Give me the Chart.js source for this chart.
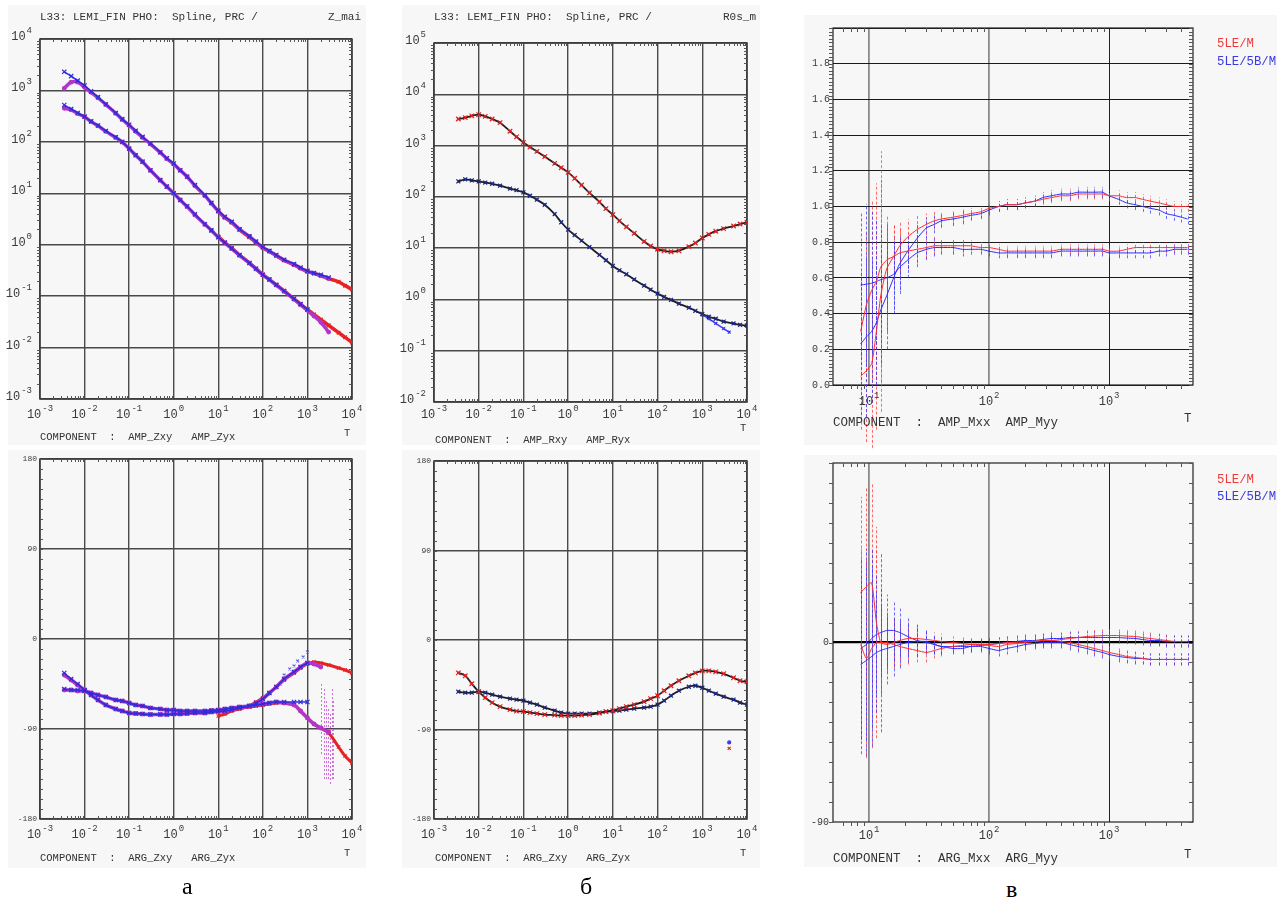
<!DOCTYPE html>
<html>
<head>
<meta charset="utf-8">
<script src="https://cdn.jsdelivr.net/npm/chart.js@4.4.1/dist/chart.umd.min.js"></script>
<style>
  body { margin:0; width:1277px; height:899px; background:#fff; position:relative; overflow:hidden; }
  .bg { position:absolute; background:#f7f7f7; }
  canvas { position:absolute; }
  .t { position:absolute; white-space:pre; color:#333; font-family:"Liberation Mono", monospace; font-size:10.5px; line-height:12px; }
  .ttl { font-size:11px; }
  .lg { position:absolute; white-space:pre; font-family:"Liberation Mono", monospace; font-size:12.3px; line-height:14px; }
  .letter { position:absolute; font-family:"Liberation Serif", serif; font-size:24px; line-height:24px; color:#000; }
</style>
</head>
<body>
<div class="bg" style="left:8px;top:5px;width:358px;height:440px"></div>
<div class="bg" style="left:8px;top:450px;width:358px;height:418px"></div>
<div class="bg" style="left:402px;top:5px;width:358px;height:440px"></div>
<div class="bg" style="left:402px;top:450px;width:358px;height:418px"></div>
<div class="bg" style="left:804px;top:15px;width:473px;height:430px"></div>
<div class="bg" style="left:804px;top:455px;width:473px;height:412px"></div>

<canvas id="aAmp" width="370" height="450" style="left:0;top:0"></canvas>
<canvas id="aArg" width="370" height="420" style="left:0;top:450px"></canvas>
<canvas id="bAmp" width="370" height="450" style="left:400px;top:0"></canvas>
<canvas id="bArg" width="370" height="420" style="left:400px;top:450px"></canvas>
<canvas id="cAmp" width="477" height="450" style="left:800px;top:0"></canvas>
<canvas id="cArg" width="477" height="420" style="left:800px;top:450px"></canvas>

<div class="t ttl" style="left:40px;top:11px">L33: LEMI_FIN PHO:  Spline, PRC /</div>
<div class="t ttl" style="left:328px;top:11px">Z_mai</div>
<div class="t" style="left:40px;top:431px">COMPONENT  :  AMP_Zxy   AMP_Zyx</div>
<div class="t" style="left:344px;top:427px">T</div>
<div class="t" style="left:40px;top:852px">COMPONENT  :  ARG_Zxy   ARG_Zyx</div>
<div class="t" style="left:344px;top:847px">T</div>
<div class="letter" style="left:182px;top:874px">а</div>

<div class="t ttl" style="left:434px;top:11px">L33: LEMI_FIN PHO:  Spline, PRC /</div>
<div class="t ttl" style="left:723px;top:11px">R0s_m</div>
<div class="t" style="left:435px;top:434px">COMPONENT  :  AMP_Rxy   AMP_Ryx</div>
<div class="t" style="left:740px;top:422px">T</div>
<div class="t" style="left:435px;top:852px">COMPONENT  :  ARG_Zxy   ARG_Zyx</div>
<div class="t" style="left:740px;top:847px">T</div>
<div class="letter" style="left:580px;top:874px">б</div>

<div class="t" style="left:833px;top:417px;font-size:12.5px">COMPONENT  :  AMP_Mxx  AMP_Myy</div>
<div class="t" style="left:1184px;top:413px;font-size:12.5px">T</div>
<div class="t" style="left:833px;top:853px;font-size:12.5px">COMPONENT  :  ARG_Mxx  ARG_Myy</div>
<div class="t" style="left:1184px;top:849px;font-size:12.5px">T</div>
<div class="lg" style="left:1217px;top:37px;color:#f03a3a">5LE/M</div>
<div class="lg" style="left:1217px;top:55px;color:#3a3ae0">5LE/5B/M</div>
<div class="lg" style="left:1217px;top:473px;color:#f03a3a">5LE/M</div>
<div class="lg" style="left:1217px;top:490px;color:#3a3ae0">5LE/5B/M</div>
<div class="letter" style="left:1006px;top:877px">в</div>

<script>
// ---------- periods (s) for the impedance panels ----------
const _ = null;
const PERIODS = [0.0035,0.005,0.007,0.01,0.014,0.02,0.03,0.05,0.07,0.1,0.14,0.2,0.3,0.5,0.7,1,1.4,2,3,5,7,10,14,20,30,50,70,100,140,200,300,500,700,1000,1400,2000,3000,5000,7000,10000];

// panel a, amplitude |Z|
const ampZyxBlue = [2300,1900,1550,1250,960,740,540,365,277,215,165,125,93,63,48,38,28,21,14.5,9.2,6.5,4.6,3.5,2.8,2.0,1.45,1.15,0.9,0.76,0.63,0.51,0.42,0.36,0.31,0.28,0.26,0.23,_,_,_];
const ampZyxMag  = [1100,1450,1450,1150,920,720,530,360,272,210,160,122,91,62,47,37,28,21,14,9,6.4,4.5,3.4,2.75,2.0,1.45,1.13,0.88,0.75,0.62,0.5,0.41,0.35,0.3,0.28,0.25,0.22,_,_,_];
const ampZyxRed  = [_,_,_,_,_,_,_,_,_,_,_,_,_,_,_,_,_,_,_,_,_,4.4,3.4,2.7,1.95,1.4,1.1,0.87,0.74,0.61,0.5,0.41,0.35,0.3,0.28,0.25,0.22,0.19,0.16,0.135];
const ampZxyBlue = [520,435,365,310,250,208,163,123,100,74,55,41,28,18,13.5,10,7.4,5.6,3.9,2.5,1.9,1.4,1.1,0.85,0.63,0.44,0.34,0.26,0.21,0.166,0.126,0.089,0.07,0.055,_,_,_,_,_,_];
const ampZxyMag  = [450,420,355,305,248,205,160,122,99,74,55,41,28,18,13.5,10,7.4,5.5,3.8,2.5,1.9,1.4,1.08,0.84,0.62,0.44,0.34,0.26,0.21,0.164,0.124,0.087,0.068,0.053,0.041,0.031,0.02,_,_,_];
const ampZxyRed  = [_,_,_,_,_,_,_,_,_,_,_,_,_,_,_,_,_,_,_,_,_,1.45,1.1,0.86,0.63,0.44,0.34,0.26,0.21,0.166,0.126,0.089,0.07,0.055,0.044,0.035,0.027,0.0195,0.0158,0.0126];

// panel a, phase (deg)
const argABlue = [-34,-40,-45,-51,-56,-61,-66,-70,-72,-74,-74.5,-75,-75.5,-75.5,-75.5,-75,-75,-74.5,-74,-74,-73,-72.5,-72,-71,-69,-67,-64,-60,-54,-48,-40,-33,-28,-24,_,_,_,_,_,_];
const argAMag  = [-36,-41,-46,-51,-56,-61,-66,-70,-72,-74,-74.5,-75,-75.5,-75.5,-75.5,-75,-75,-74.5,-74,-74,-73,-72.5,-72,-71,-69,-67,-64,-60,-54,-48,-40,-33,-28,-24,-25,-28,_,_,_,_];
const argARed  = [_,_,_,_,_,_,_,_,_,_,_,_,_,_,_,_,_,_,_,_,_,-77,-75,-72,-70,-67,-63,-59,-54,-48,-41,-34,-29,-25,-23,-24,-26,-29,-31,-34];
const argBBlue = [-50,-51,-51,-52,-54,-56,-58,-61,-62,-64,-66,-67,-69,-70,-71,-71,-72,-72,-72,-72,-71.5,-71,-70,-69,-68,-67,-66,-65,-64,-63,-63,-63,-63,-63,_,_,_,_,_,_];
const argBMag  = [-51,-51,-52,-52,-54,-56,-58,-61,-62,-64,-66,-67,-69,-70,-71,-71,-72,-72,-72,-72,-71.5,-71,-70,-69,-68,-67,-66,-65,-64,-63,-64,-66,-72,-79,-85,-89,-93,_,_,_];
const argBRed  = [_,_,_,_,_,_,_,_,_,_,_,_,_,_,_,_,_,_,_,_,_,-72,-71,-70,-69,-68,-67,-66,-65,-64,-64,-66,-72,-79,-85,-89,-94,-108,-117,-124];
const argScatterT = [250,300,400,500,600,800,1000];
const argScatter  = [-45,-36,-30,-27,-22,-18,-13];
const argStreakT  = [2000,2300,2600,2900,3200,3500,3800];
const argStreak   = [-80,-95,-100,-105,-110,-95,-100];
const argStreakE  = [35,45,40,35,35,45,40];

// panel б, apparent resistivity and phase
const ampRxy = [3300,3500,3800,4000,3700,3300,2800,1900,1480,1150,935,770,610,450,370,300,230,170,120,80,59,45,34,26,19.5,13.5,11,9.5,8.9,8.5,8.9,10.7,12.6,15.8,18.6,21.4,24,27,29.5,32];
const ampRyx = [200,220,210,200,190,180,165,145,135,122,105,88,70,46,32,23,18,14,10.5,7.4,5.8,4.5,3.7,3.1,2.45,1.86,1.55,1.3,1.12,0.98,0.83,0.69,0.6,0.52,0.46,0.42,0.37,0.34,0.32,0.31];
const ampRyxTailT = [1000,1400,2000,3000,4000];
const ampRyxTail  = [0.5,0.42,0.34,0.27,0.23];
const argRxy = [-33,-36,-44,-52,-58,-63,-67,-70,-71.5,-72,-73,-74,-75,-75.5,-76,-76,-76,-75.5,-75,-73.5,-72,-71,-69,-67,-65,-62,-59,-56,-51,-46,-41,-36,-33,-31,-31,-32,-34,-38,-41,-42];
const argRyx = [-52,-53,-53,-52,-53,-55,-57,-59,-60,-61,-63,-65,-68,-71,-73,-74,-74,-74,-74,-73,-72,-71.5,-71,-70,-69,-68,-67,-65,-61,-56,-51,-47,-46,-48,-51,-54,-57,-60,-63,-65];
const argOutT = [4000];
const argOutRyx = [-103];
const argOutRxy = [-109];

// panel в, tipper-type transfer functions
const PERIODS_M = [8.5,9.5,10.5,11.5,12.5,14,16,18,21,25,30,35,40,50,60,70,85,100,120,140,170,200,240,280,330,400,470,550,650,750,880,1000,1200,1400,1650,1900,2200,2600,3000,3500,4000,4500];
const ampMxxRed  = [0.05,0.08,0.12,0.3,0.5,0.65,0.72,0.78,0.83,0.87,0.9,0.92,0.93,0.94,0.95,0.96,0.97,0.99,1.0,1.01,1.01,1.02,1.03,1.04,1.05,1.06,1.06,1.07,1.07,1.07,1.07,1.06,1.06,1.05,1.05,1.04,1.03,1.02,1.01,1.0,1.0,1.0];
const ampMxxBlue = [0.23,0.27,0.3,0.35,0.42,0.5,0.6,0.68,0.75,0.82,0.88,0.9,0.92,0.93,0.94,0.95,0.96,0.98,1.0,1.01,1.01,1.02,1.03,1.05,1.06,1.07,1.07,1.08,1.08,1.08,1.08,1.06,1.04,1.02,1.01,1.0,0.99,0.98,0.96,0.95,0.94,0.93];
const ampMyyRed  = [0.3,0.45,0.53,0.58,0.66,0.7,0.72,0.74,0.75,0.76,0.77,0.78,0.78,0.78,0.78,0.78,0.77,0.77,0.76,0.75,0.75,0.75,0.75,0.75,0.75,0.76,0.76,0.76,0.76,0.76,0.76,0.75,0.75,0.76,0.77,0.77,0.77,0.77,0.77,0.77,0.77,0.77];
const ampMyyBlue = [0.56,0.565,0.57,0.58,0.59,0.6,0.62,0.66,0.7,0.74,0.76,0.77,0.77,0.77,0.76,0.76,0.76,0.75,0.74,0.74,0.74,0.74,0.74,0.74,0.74,0.75,0.75,0.75,0.75,0.75,0.75,0.74,0.74,0.74,0.74,0.74,0.74,0.75,0.75,0.76,0.76,0.76];
const errAmpRed  = [0.3,0.4,0.5,0.55,0.65,0.25,0.18,0.14,0.1,0.08,0.06,0.05,0.04,0.04,0.04,0.03,0.03,0.03,0.03,0.03,0.03,0.03,0.03,0.03,0.03,0.03,0.03,0.03,0.03,0.03,0.03,0.03,0.03,0.03,0.03,0.03,0.03,0.03,0.03,0.03,0.03,0.03];
const errAmpBlue = [0.4,0.45,0.4,0.35,0.3,0.3,0.2,0.15,0.1,0.08,0.06,0.05,0.04,0.04,0.04,0.03,0.03,0.03,0.03,0.03,0.03,0.03,0.03,0.03,0.03,0.03,0.03,0.03,0.03,0.03,0.03,0.03,0.03,0.03,0.03,0.03,0.03,0.03,0.03,0.03,0.03,0.03];
const argMxxRed  = [25,28,30,10,0,-1,0,1,2,2,1.5,1,0.5,0,-0.5,-1,-1,-1,-0.5,0,0,0.5,0.5,1,1,1.5,2,2.5,3,3.2,3.5,3.5,3.5,3.2,3,2.5,2,1.5,1,0.5,0.5,0.5];
const argMyyRed  = [-1,-8,-3,0,0,0,-1,-2,-3,-4,-5,-4,-3,-2,-1.5,-1,-1,-1.5,-2,-1,-0.5,0,0.5,1,1,0.5,0,-1,-2,-3,-4,-5,-6,-7,-7.5,-8,-8.5,-8.5,-8.5,-8.5,-8.5,-8.5];
const argMxxBlue = [-3,-1,2,4,5,6,6,5,3,1,0,-1,-2,-3,-3,-2,-1.5,-1,-0.5,0,0.5,1,1,1.5,2,2,2.5,2.5,2.5,2.5,2.5,2.5,2.5,2.2,2,1.5,1,1,0.5,0.5,0.5,0.5];
const argMyyBlue = [-11,-9,-7,-5,-4,-3,-2,-1,0,0.5,0.5,-1,-2,-2,-2,-2,-2,-3,-4,-3,-2,-1,-0.5,0,0,0,-1,-2,-3,-4,-5,-6,-7,-7.5,-8,-8,-8.5,-8.5,-8.5,-8.5,-8.5,-8.5];
const errArgRed  = [48,50,50,48,45,14,12,10,8,6,5,4,4,3,3,3,3,3,3,3,3,3,3,3,3,3,3,3,3,3,3,3,3,3,3,3,3,3,3,3,3,3];
const errArgBlue = [45,48,45,30,22,18,15,12,10,8,6,5,4,3,3,3,3,3,3,3,3,3,3,3,3,3,3,3,3,3,3,3,3,3,3,3,3,3,3,3,3,3];

// ---------- axis labels ----------
const DECADES_A = [1e-3,1e-2,1e-1,1,1e1,1e2,1e3,1e4];
const DECADES_B = [1e-2,1e-1,1,1e1,1e2,1e3,1e4,1e5];
const X_EXP = ['-3','-2','-1','0','1','2','3','4'];
const YA_EXP = ['-3','-2','-1','0','1','2','3','4'];
const YB_EXP = ['-2','-1','0','1','2','3','4','5'];
const PHASE_TICKS = [-180,-90,0,90,180];
const PHASE_LABELS = ['-180','-90','0','90','180'];
const M_DECADES = [10,100,1000];
const M_EXP = ['1','2','3'];
const M_AMP_TICKS = [0,0.2,0.4,0.6,0.8,1.0,1.2,1.4,1.6,1.8];
const M_AMP_LABELS = ['0.0','0.2','0.4','0.6','0.8','1.0','1.2','1.4','1.6','1.8'];

// ---------- helpers ----------
function pts(xs, ys) {
  const out = [];
  xs.forEach((x, i) => { if (ys[i] !== null && ys[i] !== undefined) out.push({x, y: ys[i]}); });
  return out;
}
function logMinor(e0, e1) {
  const out = [];
  for (let e = e0; e < e1; e++) for (let m = 2; m <= 9; m++) out.push(m * Math.pow(10, e));
  return out;
}
function linMinor(a, b, step) {
  const out = []; const n = Math.round((b - a) / step);
  for (let i = 0; i <= n; i++) out.push(a + i * step);
  return out;
}
const TXT = '#3a3a3a';

function drawPow(ctx, x, y, base, exp, align, fb, fe, lift) {
  ctx.font = fb; const wb = ctx.measureText(base).width;
  ctx.font = fe; const we = ctx.measureText(exp).width;
  const w = wb + 1 + we;
  let x0 = align === 'center' ? x - w / 2 : (align === 'right' ? x - w : x);
  ctx.textAlign = 'left'; ctx.textBaseline = 'alphabetic'; ctx.fillStyle = TXT;
  ctx.font = fb; ctx.fillText(base, x0, y);
  ctx.font = fe; ctx.fillText(exp, x0 + wb + 1, y - lift);
}

// frame, minor ticks, error bars and tick labels
const framePlugin = {
  id: 'frame',
  beforeDatasetsDraw(chart, args, o) {
    const {ctx, chartArea: a} = chart;
    const xs = chart.scales.x, ys = chart.scales.y;
    ctx.save();
    ctx.strokeStyle = o.frameColor || '#3a3a3a';
    ctx.lineWidth = o.frameWidth || 1.5;
    ctx.strokeRect(a.left, a.top, a.right - a.left, a.bottom - a.top);
    ctx.lineWidth = 1;
    ctx.strokeStyle = o.tickColor || '#555';
    const L = o.tickLen || 3;
    ctx.beginPath();
    (o.xMinor || []).forEach(v => {
      const p = Math.round(xs.getPixelForValue(v)) + 0.5;
      if (p < a.left || p > a.right) return;
      ctx.moveTo(p, a.top); ctx.lineTo(p, a.top + L);
      if (o.xBottomOut) { ctx.moveTo(p, a.bottom); ctx.lineTo(p, a.bottom + L); }
      else { ctx.moveTo(p, a.bottom); ctx.lineTo(p, a.bottom - L); }
    });
    (o.yMinor || []).forEach(v => {
      const p = Math.round(ys.getPixelForValue(v)) + 0.5;
      if (p < a.top - 0.5 || p > a.bottom + 0.5) return;
      if (o.yLeftOut) { ctx.moveTo(a.left - L, p); ctx.lineTo(a.left, p); }
      else { ctx.moveTo(a.left, p); ctx.lineTo(a.left + L, p); }
      ctx.moveTo(a.right, p); ctx.lineTo(a.right - L, p);
    });
    ctx.stroke();
    // error bars carried on datasets
    chart.data.datasets.forEach(ds => {
      if (!ds.err) return;
      ctx.strokeStyle = ds.errColor || ds.borderColor;
      ctx.lineWidth = ds.errWidth || 1;
      ctx.setLineDash(ds.errDash || [3, 2]);
      ctx.beginPath();
      ds.data.forEach((p, i) => {
        const e = ds.err[i]; if (e === null || e === undefined) return;
        const px = Math.round(xs.getPixelForValue(p.x)) + 0.5;
        ctx.moveTo(px, ys.getPixelForValue(p.y - e));
        ctx.lineTo(px, ys.getPixelForValue(p.y + e));
      });
      ctx.stroke();
    });
    ctx.setLineDash([]);
    ctx.restore();
  },
  afterDraw(chart, args, o) {
    const {ctx, chartArea: a} = chart;
    const xs = chart.scales.x, ys = chart.scales.y;
    ctx.save();
    (o.xLabels || []).forEach(l => {
      const px = xs.getPixelForValue(l.v);
      drawPow(ctx, px, a.bottom + (o.xLabelDy || 19), l.b, l.e, 'center', o.xFont || '12px "Liberation Mono"', o.xExpFont || '9px "Liberation Mono"', 7);
    });
    (o.yLabels || []).forEach(l => {
      const py = ys.getPixelForValue(l.v);
      if (l.e !== undefined) {
        drawPow(ctx, a.left - (o.yLabelGap || 8), py + 1, l.b, l.e, 'right', o.yFont || '12px "Liberation Mono"', o.yExpFont || '9px "Liberation Mono"', 7);
      } else {
        ctx.font = o.yFont || '8px "Liberation Mono"';
        ctx.fillStyle = TXT; ctx.textAlign = 'right'; ctx.textBaseline = 'middle';
        ctx.fillText(l.b, a.left - (o.yLabelGap || 3), py);
      }
    });
    ctx.restore();
  }
};
Chart.register(framePlugin);

function fixedTicks(values) {
  return (scale) => { scale.ticks = values.map(v => ({value: v})); };
}
function gridOpts(color, width) {
  return { display: true, drawTicks: false, color, lineWidth: width || 1.4 };
}
function baseOptions(padding, xScale, yScale, frame) {
  return {
    responsive: false, animation: false, devicePixelRatio: 1,
    layout: { padding },
    plugins: { legend: { display: false }, tooltip: { enabled: false }, frame },
    scales: { x: xScale, y: yScale },
    elements: { line: { tension: 0.35 } }
  };
}
function logX(min, max, ticks, gridColor) {
  return { type: 'logarithmic', min, max, afterBuildTicks: fixedTicks(ticks),
           ticks: { display: false }, border: { display: false }, grid: gridOpts(gridColor || '#4a4a4a') };
}

// series styles
function band(data, color, w, style, r) {
  return { data, showLine: true, borderColor: color, backgroundColor: color, borderWidth: w,
           pointStyle: style || 'crossRot', pointRadius: r === undefined ? 2.6 : r, pointBorderWidth: 1.2,
           pointBorderColor: color, pointBackgroundColor: color };
}
function dots(data, color, style, r) {
  return { data, showLine: false, borderColor: color, backgroundColor: color,
           pointStyle: style || 'crossRot', pointRadius: r === undefined ? 2.5 : r, pointBorderWidth: 1.2 };
}

const BLUE = '#2d2dd8', MAG = '#b236c8', RED = '#e82222', NAVY = '#1c2a8c', BLACK = '#1e1e1e';
const xMinorAB = logMinor(-3, 4);
const xLabelsAB = DECADES_A.map((v, i) => ({v, b: '10', e: X_EXP[i]}));

// ---- panel a: |Z| ----
new Chart(document.getElementById('aAmp'), {
  type: 'scatter',
  data: { datasets: [
    band(pts(PERIODS, ampZyxBlue), BLUE, 1.5, 'crossRot', 3),
    band(pts(PERIODS, ampZxyBlue), BLUE, 1.5, 'crossRot', 3),
    band(pts(PERIODS, ampZyxMag), MAG, 3.5, 'circle', 1.8),
    band(pts(PERIODS, ampZxyMag), MAG, 3.5, 'circle', 1.8),
    band(pts(PERIODS, ampZyxRed), RED, 3.5, 'crossRot', 2.6),
    band(pts(PERIODS, ampZxyRed), RED, 3.5, 'crossRot', 2.6),
  ]},
  options: baseOptions({left: 40, top: 39, right: 18, bottom: 51},
    logX(1e-3, 1e4, DECADES_A),
    { type: 'logarithmic', min: 1e-3, max: 1e4, afterBuildTicks: fixedTicks(DECADES_A),
      ticks: { display: false }, border: { display: false }, grid: gridOpts('#4a4a4a') },
    { xMinor: xMinorAB, yMinor: logMinor(-3, 4), yLeftOut: true, xLabels: xLabelsAB,
      yLabels: DECADES_A.map((v, i) => ({v, b: '10', e: YA_EXP[i]})) })
});

// ---- panel a: phase ----
const phaseY = { type: 'linear', min: -180, max: 180, afterBuildTicks: fixedTicks(PHASE_TICKS),
                 ticks: { display: false }, border: { display: false }, grid: gridOpts('#4a4a4a') };
const phaseYLabels = PHASE_TICKS.map((v, i) => ({v, b: PHASE_LABELS[i]}));
new Chart(document.getElementById('aArg'), {
  type: 'scatter',
  data: { datasets: [
    band(pts(PERIODS, argABlue), BLUE, 1.5, 'crossRot', 3),
    band(pts(PERIODS, argBBlue), BLUE, 1.5, 'crossRot', 3),
    dots(pts(argScatterT, argScatter), '#5a5af0', 'crossRot', 2),
    Object.assign(dots(pts(argStreakT, argStreak), MAG, 'circle', 0),
                  { err: argStreakE, errColor: 'rgba(200,90,220,0.85)', errDash: [2, 2] }),
    band(pts(PERIODS, argAMag), MAG, 3.5, 'circle', 1.8),
    band(pts(PERIODS, argBMag), MAG, 3.5, 'circle', 1.8),
    band(pts(PERIODS, argARed), RED, 3, 'crossRot', 2.4),
    band(pts(PERIODS, argBRed), RED, 3, 'crossRot', 2.4),
  ]},
  options: baseOptions({left: 40, top: 9, right: 18, bottom: 51},
    logX(1e-3, 1e4, DECADES_A), phaseY,
    { xMinor: xMinorAB, yMinor: linMinor(-180, 180, 10), xLabels: xLabelsAB, yLabels: phaseYLabels })
});

// ---- panel б: apparent resistivity ----
new Chart(document.getElementById('bAmp'), {
  type: 'scatter',
  data: { datasets: [
    dots(pts(PERIODS, ampRxy), RED, 'crossRot', 3.2),
    dots(pts(PERIODS, ampRyx), NAVY, 'crossRot', 2.8),
    band(pts(ampRyxTailT, ampRyxTail), '#3a3af0', 1.5, 'crossRot', 2),
    band(pts(PERIODS, ampRxy), BLACK, 1.8, 'crossRot', 1.6),
    band(pts(PERIODS, ampRyx), BLACK, 1.8, 'crossRot', 1.6),
  ]},
  options: baseOptions({left: 34, top: 43, right: 23, bottom: 48},
    logX(1e-3, 1e4, DECADES_A),
    { type: 'logarithmic', min: 1e-2, max: 1e5, afterBuildTicks: fixedTicks(DECADES_B),
      ticks: { display: false }, border: { display: false }, grid: gridOpts('#4a4a4a') },
    { xMinor: xMinorAB, yMinor: logMinor(-2, 5), yLeftOut: true, xLabels: xLabelsAB, xLabelDy: 16,
      yLabels: DECADES_B.map((v, i) => ({v, b: '10', e: YB_EXP[i]})) })
});

// ---- panel б: phase ----
new Chart(document.getElementById('bArg'), {
  type: 'scatter',
  data: { datasets: [
    dots(pts(PERIODS, argRxy), RED, 'crossRot', 3.2),
    dots(pts(PERIODS, argRyx), NAVY, 'crossRot', 2.8),
    band(pts(PERIODS, argRxy), BLACK, 1.8, 'crossRot', 1.5),
    band(pts(PERIODS, argRyx), BLACK, 1.8, 'crossRot', 1.5),
    dots(pts(argOutT, argOutRyx), '#3a3af0', 'circle', 1.5),
    dots(pts(argOutT, argOutRxy), RED, 'crossRot', 2.2),
  ]},
  options: baseOptions({left: 34, top: 11, right: 23, bottom: 51},
    logX(1e-3, 1e4, DECADES_A), phaseY,
    { xMinor: xMinorAB, yMinor: linMinor(-180, 180, 10), xLabels: xLabelsAB, yLabels: phaseYLabels })
});

// ---- panel в ----
const mGrid = { display: true, drawTicks: false,
                lineWidth: (c) => (c.tick && c.tick.value === 1000) ? 1 : 1.8,
                color: (c) => (c.tick && c.tick.value === 1000) ? '#222' : '#8a8a8a' };
const mX = { type: 'logarithmic', min: 5, max: 5000, afterBuildTicks: fixedTicks(M_DECADES),
             ticks: { display: false }, border: { display: false }, grid: mGrid };
const mXMinor = logMinor(0, 4).filter(v => v > 5 && v <= 5000);
const mXLabels = M_DECADES.map((v, i) => ({v, b: '10', e: M_EXP[i]}));
function mLine(data, color, err, errColor) {
  return { data, showLine: true, borderColor: color, borderWidth: 1, pointRadius: 0,
           tension: 0.2, err, errColor, errDash: [3, 2] };
}

new Chart(document.getElementById('cAmp'), {
  type: 'scatter',
  data: { datasets: [
    mLine(pts(PERIODS_M, ampMxxRed), '#ff2a2a', errAmpRed, 'rgba(255,60,60,0.75)'),
    mLine(pts(PERIODS_M, ampMyyRed), '#ff2a2a', errAmpRed, 'rgba(255,60,60,0.75)'),
    mLine(pts(PERIODS_M, ampMxxBlue), '#2a2aff', errAmpBlue, 'rgba(60,60,255,0.75)'),
    mLine(pts(PERIODS_M, ampMyyBlue), '#2a2aff', errAmpBlue, 'rgba(60,60,255,0.75)'),
  ]},
  options: baseOptions({left: 33, top: 28, right: 84, bottom: 65}, mX,
    { type: 'linear', min: 0, max: 2, afterBuildTicks: fixedTicks(M_AMP_TICKS.concat([2])),
      ticks: { display: false }, border: { display: false }, grid: gridOpts('#1a1a1a', 1) },
    { xMinor: mXMinor, xBottomOut: true, yMinor: linMinor(0, 2, 0.02), yLeftOut: true, tickLen: 4,
      frameColor: '#222', frameWidth: 1.2, xLabels: mXLabels, xLabelDy: 20,
      xFont: '12px "Liberation Mono"', xExpFont: '9px "Liberation Mono"',
      yLabels: M_AMP_TICKS.map((v, i) => ({v, b: M_AMP_LABELS[i]})), yFont: '10px "Liberation Mono"', yLabelGap: 3 })
});

new Chart(document.getElementById('cArg'), {
  type: 'scatter',
  data: { datasets: [
    mLine(pts(PERIODS_M, argMxxRed), '#ff2a2a', errArgRed, 'rgba(255,60,60,0.75)'),
    mLine(pts(PERIODS_M, argMyyRed), '#ff2a2a', errArgRed, 'rgba(255,60,60,0.75)'),
    mLine(pts(PERIODS_M, argMxxBlue), '#2a2aff', errArgBlue, 'rgba(60,60,255,0.75)'),
    mLine(pts(PERIODS_M, argMyyBlue), '#2a2aff', errArgBlue, 'rgba(60,60,255,0.75)'),
  ]},
  options: baseOptions({left: 33, top: 13, right: 84, bottom: 48}, mX,
    { type: 'linear', min: -90, max: 90, afterBuildTicks: fixedTicks([0]),
      ticks: { display: false }, border: { display: false }, grid: gridOpts('#000', 2.2) },
    { xMinor: mXMinor, xBottomOut: true, yMinor: linMinor(-90, 90, 10), yLeftOut: true, tickLen: 4,
      frameColor: '#222', frameWidth: 1.2, xLabels: mXLabels, xLabelDy: 17,
      xFont: '12px "Liberation Mono"', xExpFont: '9px "Liberation Mono"',
      yLabels: [{v: 0, b: '0'}, {v: -90, b: '-90'}], yFont: '10px "Liberation Mono"', yLabelGap: 4 })
});
</script>
</body>
</html>
